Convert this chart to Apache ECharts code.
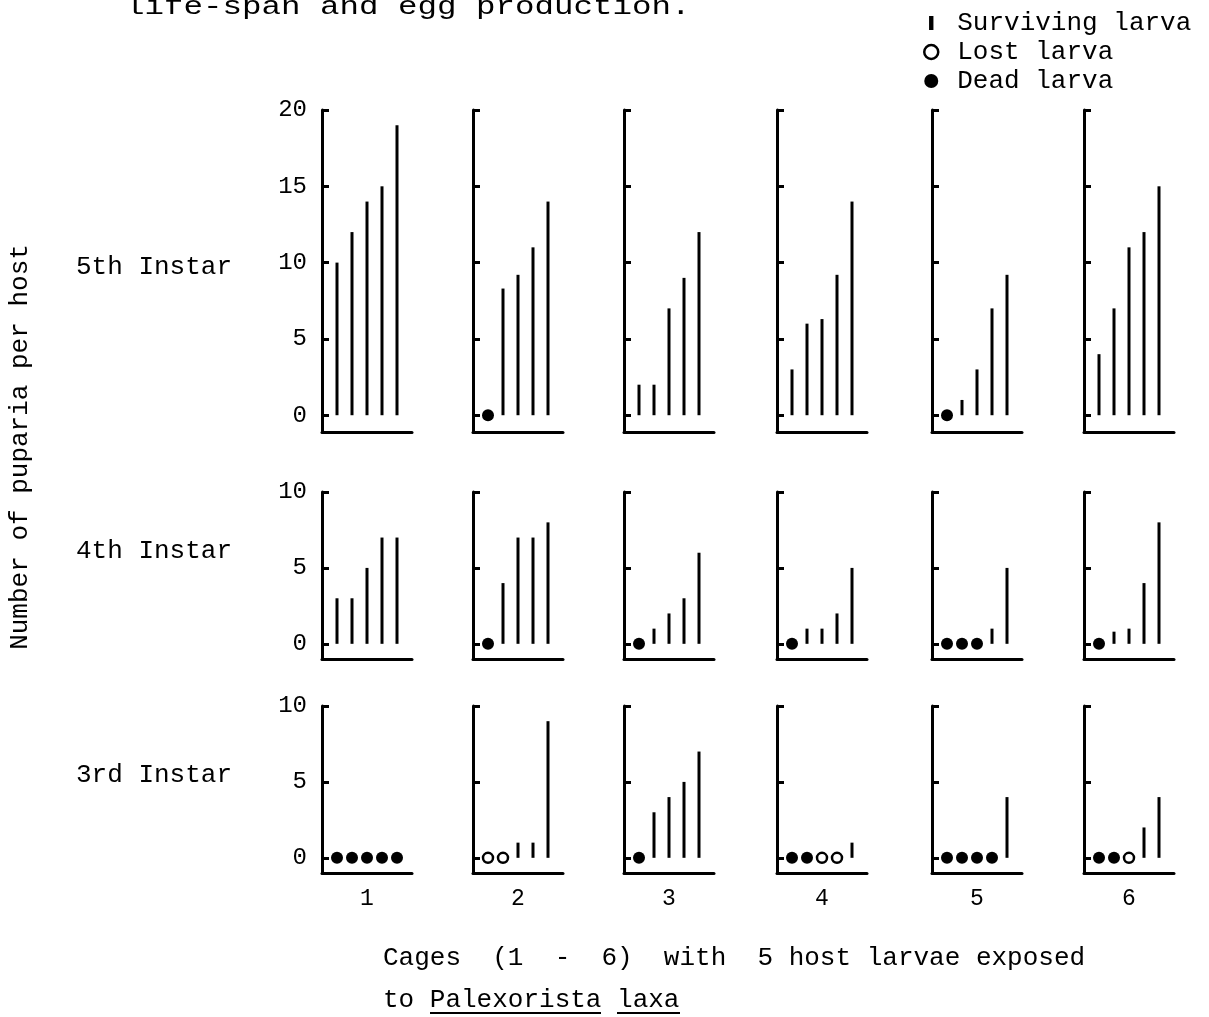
<!DOCTYPE html>
<html><head><meta charset="utf-8">
<script src="https://cdn.jsdelivr.net/npm/echarts@6/dist/echarts.min.js"></script>
<style>html,body{margin:0;padding:0;background:#fff}#c{width:1209px;height:1017px}</style>
</head><body><div id="c"></div>
<script>
// ---- data ----
const cages = ['1', '2', '3', '4', '5', '6'];
const instars = ['5th Instar', '4th Instar', '3rd Instar'];
const yMaxByRow = [20, 10, 10];
const yTicks5th = [0, 5, 10, 15, 20];
const yTicksOther = [0, 5, 10];
// per cage: 5 host larvae; number = puparia per surviving host, 'L' = lost larva, 'D' = dead larva
const instar5 = [
  [10, 12, 14, 15, 19],
  ['D', 8.3, 9.2, 11, 14],
  [2, 2, 7, 9, 12],
  [3, 6, 6.3, 9.2, 14],
  ['D', 1, 3, 7, 9.2],
  [4, 7, 11, 12, 15]
];
const instar4 = [
  [3, 3, 5, 7, 7],
  ['D', 4, 7, 7, 8],
  ['D', 1, 2, 3, 6],
  ['D', 1, 1, 2, 5],
  ['D', 'D', 'D', 1, 5],
  ['D', 0.8, 1, 4, 8]
];
const instar3 = [
  ['D', 'D', 'D', 'D', 'D'],
  ['L', 'L', 1, 1, 9],
  ['D', 3, 4, 5, 7],
  ['D', 'D', 'L', 'L', 1],
  ['D', 'D', 'D', 'D', 4],
  ['D', 'D', 'L', 2, 4]
];
const rowsData = [instar5, instar4, instar3];

// ---- layout ----
const MONO = '"Liberation Mono", "DejaVu Sans Mono", monospace';
const colLeft = [322, 473, 624, 777, 932, 1084];
const rowTop = [110, 492, 706];
const rowHeight = [322, 167, 167];
const rowMin = [-1.1, -1, -1];
const INK = '#000';

const grids = [], xAxes = [], yAxes = [], series = [];
for (let r = 0; r < 3; r++) {
  for (let c = 0; c < 6; c++) {
    const g = r * 6 + c;
    grids.push({left: colLeft[c], top: rowTop[r], width: 90, height: rowHeight[r], containLabel: false});
    const ticks = r === 0 ? yTicks5th : yTicksOther;
    xAxes.push({
      type: 'value', gridIndex: g, min: 0, max: 6,
      axisLine: {show: true, onZero: false, lineStyle: {color: INK, width: 3}},
      axisTick: {show: false}, axisLabel: {show: false}, splitLine: {show: false},
      name: r === 2 ? cages[c] : '', nameLocation: 'middle', nameGap: 14,
      nameTextStyle: {fontFamily: MONO, fontSize: 23, color: INK}
    });
    yAxes.push({
      type: 'value', gridIndex: g, min: rowMin[r], max: yMaxByRow[r],
      axisLine: {show: true, lineStyle: {color: INK, width: 3}},
      axisTick: {show: true, inside: true, length: 7, customValues: ticks, lineStyle: {color: INK, width: 3}},
      axisLabel: {show: c === 0, customValues: ticks, fontFamily: MONO, fontSize: 24, color: INK, margin: 15},
      splitLine: {show: false}
    });
    const hosts = rowsData[r][c];
    const surv = [], lost = [], dead = [];
    hosts.forEach((h, i) => {
      if (h === 'L') lost.push([i + 1, 0]);
      else if (h === 'D') dead.push([i + 1, 0]);
      else surv.push([i + 1, h]);
    });
    series.push({
      type: 'custom', name: 'Surviving larva', xAxisIndex: g, yAxisIndex: g,
      itemStyle: {color: INK},
      data: surv,
      renderItem: function (params, api) {
        const x = api.value(0), v = api.value(1);
        const p0 = api.coord([x, 0]), p1 = api.coord([x, v]);
        return {type: 'line', shape: {x1: p0[0], y1: p0[1], x2: p1[0], y2: p1[1]},
          style: {stroke: INK, lineWidth: 3, lineCap: 'butt'}};
      }
    });
    series.push({
      type: 'scatter', name: 'Lost larva', xAxisIndex: g, yAxisIndex: g,
      symbol: 'circle', symbolSize: 10,
      itemStyle: {color: '#fff', borderColor: INK, borderWidth: 2.5, opacity: 1},
      data: lost
    });
    series.push({
      type: 'scatter', name: 'Dead larva', xAxisIndex: g, yAxisIndex: g,
      symbol: 'circle', symbolSize: 12,
      itemStyle: {color: INK, opacity: 1},
      data: dead
    });
  }
}

const txt = (x, y, text, extra) => Object.assign({
  type: 'text', x: x, y: y,
  style: Object.assign({text: text, font: '26px ' + MONO, fill: INK, align: 'left', verticalAlign: 'middle'}, extra || {})
});

const graphics = [
  Object.assign(txt(125, 7, 'life-span and egg production.'), {scaleX: 1.25}),
  txt(76, 267, instars[0]),
  txt(76, 551, instars[1]),
  txt(76, 775, instars[2]),
  {type: 'text', x: 20, y: 447, rotation: Math.PI / 2,
   style: {text: 'Number of puparia per host', font: '26px ' + MONO, fill: INK, align: 'center', verticalAlign: 'middle'}},
  txt(383, 958, 'Cages  (1  -  6)  with  5 host larvae exposed'),
  txt(383, 1000, 'to Palexorista laxa'),
  {type: 'line', shape: {x1: 430, y1: 1013, x2: 601, y2: 1013}, style: {stroke: INK, lineWidth: 2}},
  {type: 'line', shape: {x1: 617, y1: 1013, x2: 680, y2: 1013}, style: {stroke: INK, lineWidth: 2}}
];

const chart = echarts.init(document.getElementById('c'), null, {renderer: 'canvas'});
chart.setOption({
  animation: false,
  backgroundColor: '#fff',
  legend: {
    orient: 'vertical', left: 918, top: 5, itemGap: 3, itemWidth: 26, itemHeight: 14,
    selectedMode: false,
    textStyle: {fontFamily: MONO, fontSize: 26, color: INK, lineHeight: 24, padding: [0, 0, 0, 8]},
    data: [
      {name: 'Surviving larva', icon: 'path://M0,0 L5,0 L5,16 L0,16 Z', itemStyle: {color: INK}},
      {name: 'Lost larva', icon: 'circle', itemStyle: {color: '#fff', borderColor: INK, borderWidth: 2.5}},
      {name: 'Dead larva', icon: 'circle', itemStyle: {color: INK}}
    ]
  },
  grid: grids, xAxis: xAxes, yAxis: yAxes, series: series,
  graphic: graphics
});
</script></body></html>
